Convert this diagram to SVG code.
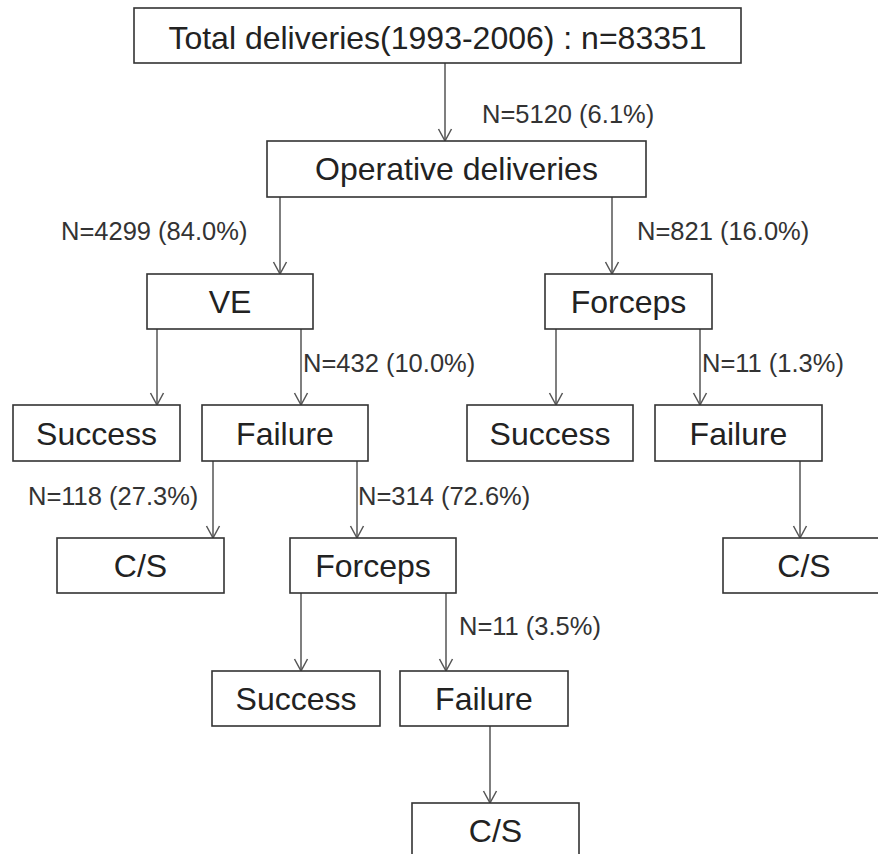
<svg xmlns="http://www.w3.org/2000/svg" width="878" height="854" viewBox="0 0 878 854">
<style>
.box{fill:#fff;stroke:#333;stroke-width:1.6}
.nt{font-family:"Liberation Sans",Arial,sans-serif;font-size:32px;fill:#222;text-anchor:middle}
.lb{font-family:"Liberation Sans",Arial,sans-serif;font-size:25.5px;fill:#333}
.cn{stroke:#555;stroke-width:1.5;fill:none;marker-end:url(#ah)}
</style>
<defs>
<marker id="ah" markerUnits="userSpaceOnUse" markerWidth="16" markerHeight="16" viewBox="-14 -8 16 16" refX="0" refY="0" orient="auto">
<path d="M-12,-6.5 L0,0 L-12,6.5" fill="none" stroke="#555" stroke-width="1.5"/>
</marker>
</defs>
<rect width="878" height="854" fill="#fff"/>
<g id="connectors">
<line class="cn" x1="445" y1="63" x2="445" y2="141"/>
<line class="cn" x1="280" y1="197" x2="280" y2="274"/>
<line class="cn" x1="612" y1="197" x2="612" y2="274"/>
<line class="cn" x1="157" y1="329" x2="157" y2="405"/>
<line class="cn" x1="301" y1="329" x2="301" y2="405"/>
<line class="cn" x1="556" y1="329" x2="556" y2="405"/>
<line class="cn" x1="700" y1="329" x2="700" y2="405"/>
<line class="cn" x1="213" y1="461" x2="213" y2="538"/>
<line class="cn" x1="357" y1="461" x2="357" y2="538"/>
<line class="cn" x1="800" y1="461" x2="800" y2="538"/>
<line class="cn" x1="301" y1="593" x2="301" y2="671"/>
<line class="cn" x1="446" y1="593" x2="446" y2="671"/>
<line class="cn" x1="490" y1="726" x2="490" y2="803"/>
</g>
<g id="labels">
<text class="lb" x="482" y="123">N=5120 (6.1%)</text>
<text class="lb" x="61" y="240">N=4299 (84.0%)</text>
<text class="lb" x="637" y="240">N=821 (16.0%)</text>
<text class="lb" x="303" y="372">N=432 (10.0%)</text>
<text class="lb" x="702" y="372">N=11 (1.3%)</text>
<text class="lb" x="28" y="505">N=118 (27.3%)</text>
<text class="lb" x="358" y="505">N=314 (72.6%)</text>
<text class="lb" x="459" y="635">N=11 (3.5%)</text>
</g>
<g id="total"><rect class="box" x="134" y="8" width="607" height="55"/><text class="nt" x="437.5" y="49">Total deliveries(1993-2006) :  n=83351</text></g>
<g id="operative"><rect class="box" x="267" y="141" width="379" height="56"/><text class="nt" x="456.5" y="180">Operative deliveries</text></g>
<g id="ve"><rect class="box" x="147" y="274" width="166" height="55"/><text class="nt" x="230" y="313">VE</text></g>
<g id="forceps1"><rect class="box" x="545" y="274" width="167" height="55"/><text class="nt" x="628.5" y="313">Forceps</text></g>
<g id="success1"><rect class="box" x="13" y="405" width="167" height="56"/><text class="nt" x="96.5" y="445">Success</text></g>
<g id="failure1"><rect class="box" x="202" y="405" width="166" height="56"/><text class="nt" x="285" y="445">Failure</text></g>
<g id="success2"><rect class="box" x="467" y="405" width="166" height="56"/><text class="nt" x="550" y="445">Success</text></g>
<g id="failure2"><rect class="box" x="655" y="405" width="167" height="56"/><text class="nt" x="738.5" y="445">Failure</text></g>
<g id="cs1"><rect class="box" x="57" y="538" width="167" height="55"/><text class="nt" x="140.5" y="577">C/S</text></g>
<g id="forceps2"><rect class="box" x="290" y="538" width="166" height="55"/><text class="nt" x="373" y="577">Forceps</text></g>
<g id="cs2"><rect class="box" x="723" y="538" width="165" height="55"/><text class="nt" x="804" y="577">C/S</text></g>
<g id="success3"><rect class="box" x="212" y="671" width="168" height="55"/><text class="nt" x="296" y="710">Success</text></g>
<g id="failure3"><rect class="box" x="400" y="671" width="168" height="55"/><text class="nt" x="484" y="710">Failure</text></g>
<g id="cs3"><rect class="box" x="412" y="803" width="167" height="55"/><text class="nt" x="495.5" y="842">C/S</text></g>
</svg>
